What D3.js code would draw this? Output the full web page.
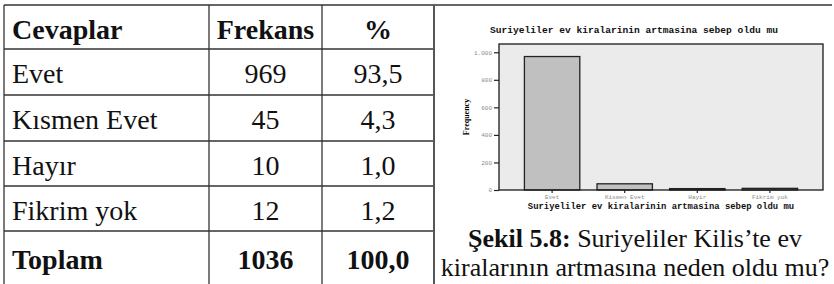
<!DOCTYPE html>
<html>
<head>
<meta charset="utf-8">
<script src="https://cdn.jsdelivr.net/npm/d3@7"></script>
<style>
  body { margin: 0; background: #fff; }
  svg { display: block; }
  .cell { font-family: "Liberation Serif", serif; font-size: 28px; fill: #111; }
  .bold { font-weight: bold; }
  .tick text { font-family: "Liberation Mono", monospace; font-size: 6px; fill: #8a8a8a; }
  .tick line { stroke: #222; }
  .mono { font-family: "Liberation Mono", monospace; font-weight: bold; fill: #111; }
</style>
</head>
<body>
<svg id="chart" width="834" height="284"></svg>
<script>
// table data
var headers = ["Cevaplar", "Frekans", "%"];
var answers = ["Evet", "Kısmen Evet", "Hayır", "Fikrim yok"];
var freqs = [969, 45, 10, 12];
var percents = ["93,5", "4,3", "1,0", "1,2"];
var totalRow = ["Toplam", "1036", "100,0"];

// chart data (SPSS labels, no Turkish letters)
var chartTitle = "Suriyeliler ev kiralarinin artmasina sebep oldu mu";
var chartCats = ["Evet", "Kismen Evet", "Hayir", "Fikrim yok"];
var yTicks = [0, 200, 400, 600, 800, 1000];
var yLabel = "Frequency";
var captionBold = "Şekil 5.8:";
var captionLine1 = " Suriyeliler Kilis’te ev";
var captionLine2 = "kiralarının artmasına neden oldu mu?";

var svg = d3.select("#chart");

// ---- table ----
var colEdges = [4, 209, 322, 434];
var rowEdges = [5, 49, 95, 141, 186, 231, 290];
var rows = [headers].concat(answers.map(function(a, i) {
  return [a, String(freqs[i]), percents[i]];
})).concat([totalRow]);

var grid = svg.append("g").attr("class", "grid")
    .attr("stroke", "#333").attr("stroke-width", 1.3);

rowEdges.slice(0, -1).forEach(function(y, i) {
  grid.append("line")
      .attr("x1", colEdges[0]).attr("x2", i === 0 ? 832 : colEdges[3])
      .attr("y1", y).attr("y2", y);
});
colEdges.forEach(function(x, i) {
  grid.append("line")
      .attr("x1", x).attr("x2", x)
      .attr("y1", rowEdges[0]).attr("y2", 284)
      .attr("stroke", i === 3 ? "#555" : "#333")
      .attr("stroke-width", i === 3 ? 2 : 1.3);
});

var baselines = [39, 83, 129, 175, 220, 269];
rows.forEach(function(r, i) {
  var bold = i === 0 || i === rows.length - 1;
  r.forEach(function(txt, j) {
    svg.append("text")
        .attr("class", "cell" + (bold ? " bold" : ""))
        .attr("x", j === 0 ? 12 : (colEdges[j] + colEdges[j + 1]) / 2)
        .attr("y", baselines[i])
        .attr("text-anchor", j === 0 ? "start" : "middle")
        .text(txt);
  });
});

// ---- bar chart ----
var plot = {left: 499, right: 823, top: 44, bottom: 190};

var x = d3.scaleBand()
    .domain(chartCats)
    .range([plot.left, plot.right])
    .paddingInner(0.237)
    .paddingOuter(0.35);

var y = d3.scaleLinear()
    .domain([0, 1060])
    .range([plot.bottom, plot.top]);

var fmt = d3.formatLocale({decimal: ",", thousands: ".", grouping: [3], currency: ["", ""]}).format(",d");

svg.append("rect")
    .attr("x", plot.left).attr("y", plot.top)
    .attr("width", plot.right - plot.left)
    .attr("height", plot.bottom - plot.top)
    .attr("fill", "#ebebeb");

svg.append("g").selectAll("rect")
    .data(freqs)
  .enter().append("rect")
    .attr("x", function(d, i) { return x(chartCats[i]); })
    .attr("y", function(d) { return y(d); })
    .attr("width", x.bandwidth())
    .attr("height", function(d) { return y(0) - y(d); })
    .attr("fill", "#c0c0c0")
    .attr("stroke", "#222")
    .attr("stroke-width", 1.3);

svg.append("rect")
    .attr("x", plot.left).attr("y", plot.top)
    .attr("width", plot.right - plot.left)
    .attr("height", plot.bottom - plot.top)
    .attr("fill", "none")
    .attr("stroke", "#1a1a1a")
    .attr("stroke-width", 1.3);

var yAxis = svg.append("g")
    .attr("transform", "translate(" + plot.left + ",0)")
    .call(d3.axisLeft(y).tickValues(yTicks).tickFormat(fmt).tickSize(5).tickPadding(2));
yAxis.select(".domain").remove();
yAxis.selectAll(".tick line").attr("stroke-width", 1.2);

var xAxis = svg.append("g")
    .attr("transform", "translate(0," + plot.bottom + ")")
    .call(d3.axisBottom(x).tickSize(3).tickPadding(2));
xAxis.select(".domain").remove();
xAxis.selectAll(".tick line").attr("stroke-width", 1.2);

svg.append("text")
    .attr("class", "mono")
    .attr("x", 634).attr("y", 33)
    .attr("text-anchor", "middle")
    .style("font-size", "9.6px")
    .text(chartTitle);

svg.append("text")
    .attr("class", "mono")
    .attr("x", (plot.left + plot.right) / 2).attr("y", 209)
    .attr("text-anchor", "middle")
    .style("font-size", "8.9px")
    .text(chartTitle);

svg.append("text")
    .attr("transform", "translate(469," + ((plot.top + plot.bottom) / 2) + ") rotate(-90)")
    .attr("text-anchor", "middle")
    .style("font-family", "'Liberation Serif', serif")
    .style("font-weight", "bold")
    .style("font-size", "8px")
    .text(yLabel);

// ---- caption ----
var cap1 = svg.append("text")
    .attr("class", "cell")
    .attr("x", 635).attr("y", 247)
    .attr("text-anchor", "middle")
    .style("font-size", "26px");
cap1.append("tspan").attr("font-weight", "bold").text(captionBold);
cap1.append("tspan").text(captionLine1);

svg.append("text")
    .attr("class", "cell")
    .attr("x", 635).attr("y", 276)
    .attr("text-anchor", "middle")
    .style("font-size", "26px")
    .text(captionLine2);
</script>
</body>
</html>
